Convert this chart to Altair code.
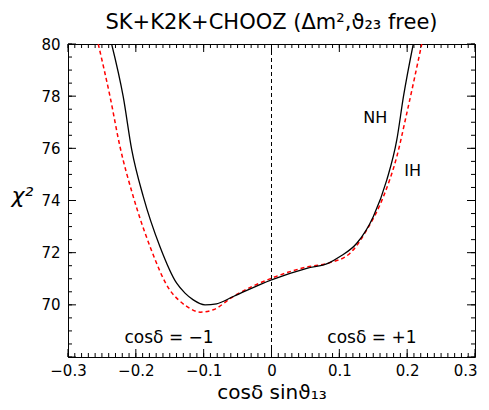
import altair as alt
import pandas as pd

# ---- data ----
nh_x = [-0.2357, -0.2186, -0.206, -0.189, -0.1644, -0.1398, -0.1275, -0.1153, -0.098, -0.081, -0.0563,
        0.0, 0.052, 0.084, 0.101, 0.1257, 0.150, 0.170, 0.1847, 0.1945, 0.209]
nh_y = [80.0, 77.98, 75.94, 74.15, 72.23, 70.83, 70.45, 70.19, 70.0, 70.04, 70.32,
        70.96, 71.4, 71.6, 71.85, 72.36, 73.38, 74.79, 76.32, 77.98, 80.0]

ih_x = [-0.2554, -0.238, -0.2234, -0.2038, -0.179, -0.15, -0.1375, -0.125, -0.105, -0.086, -0.0563,
        0.0, 0.052, 0.084, 0.1158, 0.1404, 0.165, 0.1847, 0.1994, 0.2215]
ih_y = [80.0, 77.98, 76.07, 74.15, 72.23, 70.57, 70.2, 69.94, 69.72, 69.81, 70.32,
        71.02, 71.45, 71.6, 71.98, 72.87, 74.15, 75.68, 77.34, 80.0]

x_major = [-0.3, -0.2, -0.1, 0.0, 0.1, 0.2, 0.3]
x_minor = [round(-0.3 + 0.01 * i, 2) for i in range(61)]
y_major = [68, 70, 72, 74, 76, 78, 80]
y_labels = [70, 72, 74, 76, 78, 80]
y_minor = [68 + 0.5 * i for i in range(25)]

ann_text = ["cosδ = −1", "cosδ = +1", "NH", "IH"]
ann_x = [-0.151, 0.148, 0.153, 0.208]
ann_y = [68.54, 68.54, 76.97, 74.94]
ann_size = [17, 17, 16, 16]

W, H = 407, 313
FONT = "DejaVu Sans"

xscale = alt.Scale(domain=[-0.3, 0.3], nice=False, zero=False)
yscale = alt.Scale(domain=[68, 80], nice=False, zero=False)
xaxis = alt.Axis(values=x_major, format=".1~f", ticks=False, domain=False, grid=False,
                 labelFont=FONT, labelFontSize=15, labelColor="black", labelPadding=6,
                 labelFlush=False, labelOverlap=False,
                 labelAlign=alt.ExprRef("datum.value > 0.25 ? 'right' : 'center'"),
                 labelOffset=alt.ExprRef("datum.value > 0.25 ? 2 : 0"),
                 title="cosδ sinϑ₁₃", titleFont=FONT, titleFontSize=20,
                 titleFontWeight="normal", titleColor="black", titlePadding=4)
yaxis = alt.Axis(values=y_labels, format="d", ticks=False, domain=False, grid=False,
                 labelFont=FONT, labelFontSize=15, labelColor="black", labelPadding=8,
                 labelFlush=False, labelOverlap=False,
                 title="χ²", titleFont=FONT, titleFontSize=22, titleFontStyle="italic",
                 titleFontWeight="normal", titleColor="black", titleAngle=0,
                 titleAlign="center", titleBaseline="alphabetic", titleX=-46, titleY=158)


def X(f):
    return alt.X(f, type="quantitative", scale=xscale, axis=xaxis)


def Y(f):
    return alt.Y(f, type="quantitative", scale=yscale, axis=yaxis)


nh = pd.DataFrame({"x": nh_x, "y": nh_y})
ih = pd.DataFrame({"x": ih_x, "y": ih_y})

l_nh = alt.Chart(nh).mark_line(color="black", strokeWidth=1.3, interpolate="monotone",
                               clip=True).encode(x=X("x"), y=Y("y"))
l_ih = alt.Chart(ih).mark_line(color="#ff0000", strokeWidth=1.5, strokeDash=[4, 3],
                               interpolate="monotone", clip=True).encode(x=X("x"), y=Y("y"))

zero_line = alt.Chart(pd.DataFrame({"x": [0.0]})).mark_rule(
    color="black", strokeWidth=1, strokeDash=[4, 3]).encode(x=X("x"))

xmaj = pd.DataFrame({"x": x_major})
xmin = pd.DataFrame({"x": x_minor})
ymaj = pd.DataFrame({"y": y_major})
ymin = pd.DataFrame({"y": y_minor})

MAJ, MIN = 8, 4
tick_layers = [
    alt.Chart(xmaj).mark_rule(color="black", strokeWidth=1).encode(
        x=X("x"), y=alt.value(H), y2=alt.value(H - MAJ)),
    alt.Chart(xmaj).mark_rule(color="black", strokeWidth=1).encode(
        x=X("x"), y=alt.value(0), y2=alt.value(MAJ)),
    alt.Chart(xmin).mark_rule(color="black", strokeWidth=1).encode(
        x=X("x"), y=alt.value(H), y2=alt.value(H - MIN)),
    alt.Chart(xmin).mark_rule(color="black", strokeWidth=1).encode(
        x=X("x"), y=alt.value(0), y2=alt.value(MIN)),
    alt.Chart(ymaj).mark_rule(color="black", strokeWidth=1).encode(
        y=Y("y"), x=alt.value(0), x2=alt.value(MAJ)),
    alt.Chart(ymaj).mark_rule(color="black", strokeWidth=1).encode(
        y=Y("y"), x=alt.value(W), x2=alt.value(W - MAJ)),
    alt.Chart(ymin).mark_rule(color="black", strokeWidth=1).encode(
        y=Y("y"), x=alt.value(0), x2=alt.value(MIN)),
    alt.Chart(ymin).mark_rule(color="black", strokeWidth=1).encode(
        y=Y("y"), x=alt.value(W), x2=alt.value(W - MIN)),
]

ann = pd.DataFrame({"t": ann_text, "x": ann_x, "y": ann_y, "s": ann_size})
texts = alt.Chart(ann).mark_text(font=FONT, color="black", align="center",
                                 baseline="alphabetic").encode(
    x=X("x"), y=Y("y"), text="t:N", size=alt.Size("s:Q", scale=None, legend=None))

chart = alt.layer(
    zero_line, *tick_layers, l_ih, l_nh, texts
).properties(
    width=W, height=H,
    autosize=alt.AutoSizeParams(type="none"),
    padding={"left": 60, "top": 36, "right": 6, "bottom": 45},
    background="white",
    title=alt.TitleParams("SK+K2K+CHOOZ (Δm²,ϑ₂₃ free)", font=FONT, fontSize=21,
                          fontWeight="normal", color="black", anchor="middle",
                          offset=4),
).configure_view(stroke="black", strokeWidth=1)

chart.save("out.html", embed_options={"renderer": "svg", "actions": False})
